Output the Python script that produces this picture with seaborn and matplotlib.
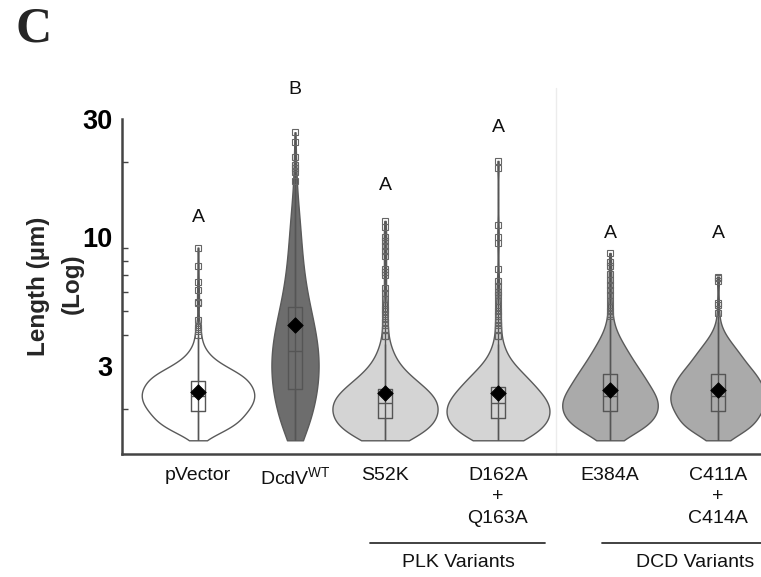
import numpy as np
import pandas as pd
import matplotlib
matplotlib.use("Agg")
import matplotlib.pyplot as plt
import matplotlib.transforms as mtransforms
from matplotlib.ticker import FixedLocator, LogLocator, NullFormatter
import seaborn as sns

sns.set_theme(style="white")
plt.rcParams["font.family"] = ["Liberation Sans", "DejaVu Sans"]
plt.rcParams["mathtext.fontset"] = "custom"
plt.rcParams["mathtext.rm"] = "Liberation Sans"
plt.rcParams["mathtext.it"] = "Liberation Sans:italic"
plt.rcParams["mathtext.bf"] = "Liberation Sans:bold"

# ---------------------------------------------------------------- data
GROUPS = ["pVector", "DcdV", "S52K", "D162A+Q163A", "E384A", "C411A+C414A"]
TICK_LABELS = ["pVector", "DcdV$^{\\mathrm{WT}}$", "S52K",
               "D162A\n+\nQ163A", "E384A", "C411A\n+\nC414A"]
LETTERS = ["A", "B", "A", "A", "A", "A"]

# cell length bins (µm) and number of cells per bin
LENGTH_BINS = [1.50, 1.61, 1.72, 1.84, 1.98, 2.12, 2.27, 2.43, 2.61, 2.79,
               2.99, 3.21, 3.44, 3.68, 3.95, 4.23, 4.53, 4.86, 5.20, 5.58,
               5.98, 6.40, 6.86, 7.35, 7.88, 8.44, 9.05, 9.69, 10.4, 11.1,
               11.9, 12.8, 13.7, 14.7, 15.7, 16.8]
pvector_counts = [3, 22, 35, 44, 50, 53, 55, 55, 50, 42, 26, 14, 8, 4, 2, 1]
dcdv_counts = [10, 11, 13, 15, 17, 19, 20, 21, 22, 22, 23, 23, 22, 21, 20, 19,
               17, 16, 14, 12, 11, 10, 9, 8, 7, 7, 6, 6, 5, 5, 4, 4, 3, 2, 2, 1]
s52k_counts = [30, 38, 48, 54, 56, 54, 50, 43, 32, 22, 15, 11, 7, 5, 3, 2, 2, 1]
d162a_counts = [35, 38, 48, 54, 56, 52, 46, 40, 33, 26, 17, 11, 7, 5, 3, 2, 2, 1]
e384a_counts = [10, 25, 38, 46, 49, 48, 45, 41, 36, 31, 27, 22, 17, 13, 9, 5, 2, 1]
c411a_counts = [10, 26, 37, 43, 48, 50, 51, 49, 45, 39, 33, 27, 21, 15, 9, 4, 2]

# individual long cells (µm)
pvector_tail = [4.0, 4.15, 4.3, 4.6, 5.4, 5.45, 6.1, 6.55, 7.6, 9.05]
dcdv_tail = [18.3, 19.0, 19.5, 21.1, 24.2, 26.5]
s52k_tail = [4.4, 4.7, 5.0, 5.1, 5.3, 5.6, 5.9, 6.2, 7.0, 7.2, 7.4, 8.4, 8.8,
             9.2, 9.6, 10.0, 11.0, 11.6]
d162a_tail = [4.4, 4.6, 4.8, 5.0, 5.2, 5.5, 5.8, 6.0, 6.3, 6.6, 7.4, 9.4, 10.0,
              11.2, 19.0, 20.3]
e384a_tail = [4.6, 4.8, 5.0, 5.2, 5.5, 5.8, 6.1, 6.4, 6.7, 7.1, 7.6, 7.9, 8.6]
c411a_tail = [4.9, 5.3, 5.4, 6.6, 6.8, 6.9]

MEAN_LENGTH = [2.36, 4.40, 2.33, 2.33, 2.40, 2.40]
LETTER_Y = [12.0, 39.6, 16.2, 27.6, 10.35, 10.35]

# ---------------------------------------------------------------- layout / style
POS = [0.76, 1.73, 2.63, 3.76, 4.88, 5.96]
FILLS = ["#ffffff", "#6d6d6d", "#d4d4d4", "#d4d4d4", "#aaaaaa", "#aaaaaa"]
LINE = "#555555"

counts = [pvector_counts, dcdv_counts, s52k_counts, d162a_counts,
          e384a_counts, c411a_counts]
tails = [pvector_tail, dcdv_tail, s52k_tail, d162a_tail, e384a_tail, c411a_tail]

frames = []
for g, p, c, t in zip(GROUPS, POS, counts, tails):
    vals = np.concatenate([np.repeat(LENGTH_BINS[:len(c)], c), t])
    frames.append(pd.DataFrame({"group": g, "pos": p, "length": vals}))
df = pd.concat(frames, ignore_index=True)

fig = plt.figure(figsize=(7.61, 5.77), dpi=100)
ax = fig.add_axes([122 / 761, 1 - 454 / 577, 639 / 761, 335 / 577])

# one shared density scale for all violins, so widths stay comparable
n_before = len(ax.collections)
sns.violinplot(data=df, x="pos", y="length", native_scale=True,
               log_scale=(False, True), density_norm="area", common_norm=True,
               cut=0, gridsize=300, inner=None, width=1.25, color="white",
               linecolor="#5a5a5a", linewidth=1.0, ax=ax)
for coll, fc in zip(ax.collections[n_before:], FILLS):
    coll.set_facecolor(fc)

# full-range line through each violin
stats = df.groupby("pos")["length"].agg(["min", "max"]).reindex(POS)
ax.vlines(POS, stats["min"], stats["max"], color=LINE, lw=1.0, zorder=3)

sns.boxplot(data=df, x="pos", y="length", native_scale=True,
            log_scale=(False, True), width=0.15, fill=False, color=LINE,
            linewidth=1.0, whis=1.5, showcaps=False, fliersize=4,
            flierprops=dict(marker="s", markerfacecolor="none",
                            markeredgecolor="#666666", markeredgewidth=0.8,
                            markersize=4),
            ax=ax, zorder=4)

sns.scatterplot(x=POS, y=MEAN_LENGTH, marker="D", s=62, color="black",
                edgecolor="black", linewidth=0.6, zorder=6, legend=False, ax=ax)

for p, letter, y in zip(POS, LETTERS, LETTER_Y):
    ax.text(p, y, letter, ha="center", va="center", fontsize=14,
            color="#111111", clip_on=False)

ax.set_xlim(0, 6.39)
ax.set_ylim(1.32, 30)
ax.set_xlabel("")
ax.set_ylabel("")

ax.yaxis.set_major_locator(FixedLocator([3, 10, 30]))
ax.set_yticks([3, 10, 30], ["3", "10", "30"], fontsize=19.5, fontweight="bold")
ax.yaxis.set_minor_locator(LogLocator(base=10, subs=[2, 3, 4, 5, 6, 7, 8, 9]))
ax.yaxis.set_minor_formatter(NullFormatter())
ax.tick_params(axis="y", which="major", direction="inout", length=9,
               width=1.2, color="#444444", pad=2, labelcolor="black")
ax.tick_params(axis="y", which="minor", direction="in", length=4,
               width=1.0, color="#444444", left=True)

ax.set_xticks(POS, TICK_LABELS, fontsize=14, linespacing=1.35)
ax.tick_params(axis="x", length=0, pad=9, labelcolor="#111111")

sns.despine(ax=ax)
for side in ("left", "bottom"):
    ax.spines[side].set_color("#444444")
    ax.spines[side].set_linewidth(1.8)

trans = mtransforms.blended_transform_factory(ax.transData, ax.transAxes)
# faint divider between the PLK and DCD panels
ax.plot([4.34, 4.34], [-0.003, 1.093], transform=trans, color="#ececec",
        lw=1.0, clip_on=False, zorder=0)

# group brackets
for x0, x1, xc, label in [(2.48, 4.23, 3.36, "PLK Variants"),
                          (4.80, 6.39, 5.73, "DCD Variants")]:
    ax.plot([x0, x1], [-0.266, -0.266], transform=trans, color="#333333",
            lw=1.3, clip_on=False)
    ax.text(xc, -0.323, label, transform=trans, ha="center", va="center",
            fontsize=14, color="#111111")

fig.text(39 / 761, 1 - 286 / 577, "Length (µm)", rotation=90, ha="center",
         va="center", fontsize=17.5, fontweight="bold")
fig.text(72 / 761, 1 - 284 / 577, "(Log)", rotation=90, ha="center",
         va="center", fontsize=17.5, fontweight="bold")
fig.text(16 / 761, 1 - 42 / 577, "C", family=["Liberation Serif"],
         fontweight="bold", fontsize=36, ha="left", va="baseline")

fig.savefig("out.png", dpi=100)
